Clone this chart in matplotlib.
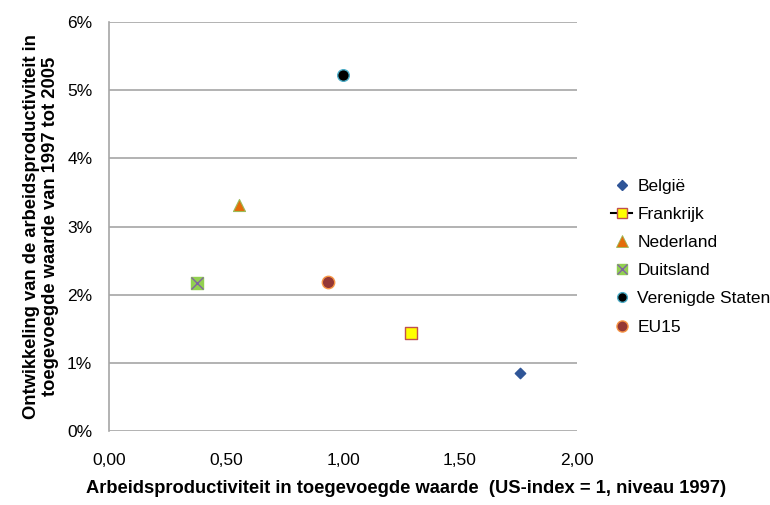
import matplotlib.pyplot as plt
from matplotlib.ticker import FuncFormatter
from matplotlib.lines import Line2D

plt.rcParams['font.family'] = ['Liberation Sans Narrow', 'Liberation Sans', 'DejaVu Sans']

# ---------------------------------------------------------
# data
landen = ["België", "Frankrijk", "Nederland", "Duitsland", "Verenigde Staten", "EU15"]
productiviteit = [1.756, 1.289, 0.557, 0.377, 0.999, 0.936]
groei = [0.85, 1.44, 3.31, 2.17, 5.23, 2.18]

x_ticks = [0.0, 0.5, 1.0, 1.5, 2.0]
y_ticks = [0, 1, 2, 3, 4, 5, 6]

# ---------------------------------------------------------

fig = plt.figure(figsize=(7.7, 5.05), dpi=100)
ax = fig.add_axes([0.1416, 0.1465, 0.6078, 0.8099])

grid_kleur = "#a6a6a6"

# Belgie
ax.scatter(productiviteit[0], groei[0], marker="D", s=28, color="#2f5597",
           edgecolor="#2f5597", zorder=3)
# Frankrijk
ax.scatter(productiviteit[1], groei[1], marker="s", s=80, color="#ffff00",
           edgecolor="#c0504d", linewidth=1, zorder=3)
# Nederland
ax.scatter(productiviteit[2], groei[2], marker="^", s=75, color="#e46c0a",
           edgecolor="#9bbb59", linewidth=0.8, zorder=3)
# Duitsland
ax.scatter(productiviteit[3], groei[3], marker="s", s=75, color="#92d050",
           edgecolor="#92d050", zorder=3)
ax.scatter(productiviteit[3], groei[3], marker="x", s=75, color="#8064a2",
           linewidth=1, zorder=4)
# Verenigde Staten
ax.scatter(productiviteit[4], groei[4], marker="o", s=70, color="black",
           edgecolor="#4bacc6", linewidth=1, zorder=3)
# EU15
ax.scatter(productiviteit[5], groei[5], marker="o", s=80, color="#953735",
           edgecolor="#f79646", linewidth=1, zorder=3)

ax.set_xlim(0, 2)
ax.set_ylim(0, 6)
ax.set_xticks(x_ticks)
ax.set_yticks(y_ticks)
ax.xaxis.set_major_formatter(FuncFormatter(lambda v, p: f"{v:.2f}".replace(".", ",")))
ax.yaxis.set_major_formatter(FuncFormatter(lambda v, p: f"{v:.0f}%"))
ax.tick_params(length=0, labelsize=12.5, colors="black")
ax.tick_params(axis="x", pad=16)
ax.tick_params(axis="y", pad=12)

ax.grid(axis="y", color=grid_kleur, linewidth=1.2)
ax.set_axisbelow(True)
for s in ["top", "right", "bottom"]:
    ax.spines[s].set_visible(False)
ax.spines["left"].set_color(grid_kleur)
ax.spines["left"].set_linewidth(1.2)

fig.text(0.527, 0.033,
         "Arbeidsproductiviteit in toegevoegde waarde  (US-index = 1, niveau 1997)",
         fontsize=13.2, fontweight="bold", ha="center", va="center")
ax.set_ylabel("Ontwikkeling van de arbeidsproductiviteit in\ntoegevoegde waarde van 1997 tot 2005",
              fontsize=13.2, fontweight="bold", labelpad=6, linespacing=1.15)

# legend
handles = [
    Line2D([], [], linestyle="none", marker="D", markersize=5, color="#2f5597"),
    Line2D([], [], linestyle="-", color="black", marker="s", markersize=7,
           markerfacecolor="#ffff00", markeredgecolor="#c0504d"),
    Line2D([], [], linestyle="none", marker="^", markersize=8, color="#e46c0a",
           markeredgecolor="#9bbb59", markeredgewidth=0.6),
    (Line2D([], [], linestyle="none", marker="s", markersize=7, color="#92d050"),
     Line2D([], [], linestyle="none", marker="x", markersize=7, color="#8064a2")),
    Line2D([], [], linestyle="none", marker="o", markersize=7, color="black",
           markeredgecolor="#4bacc6"),
    Line2D([], [], linestyle="none", marker="o", markersize=8, color="#953735",
           markeredgecolor="#f79646"),
]
fig.legend(handles, landen, loc="upper left", bbox_to_anchor=(0.785, 0.66),
           frameon=False, fontsize=12.5, handlelength=1.2, handletextpad=0.3,
           labelspacing=0.75, borderaxespad=0)

fig.savefig("out.png", dpi=100)
